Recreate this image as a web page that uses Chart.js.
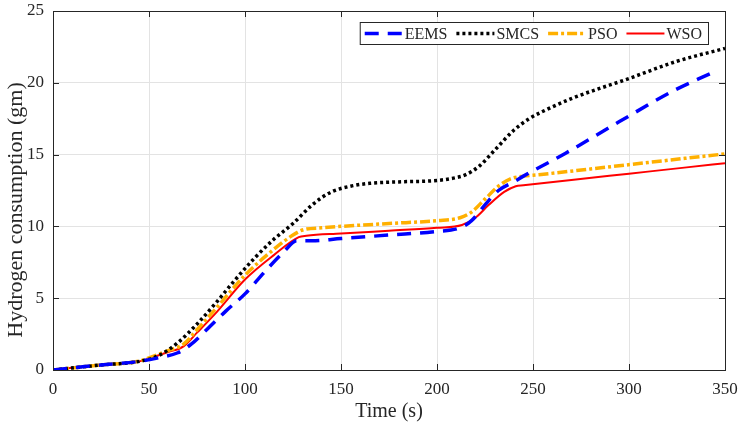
<!DOCTYPE html>
<html>
<head>
<meta charset="utf-8">
<script src="https://cdn.jsdelivr.net/npm/chart.js@4/dist/chart.umd.min.js"></script>
<style>
    html, body { margin: 0; padding: 0; background: #fff; }
    #wrap { width: 744px; height: 424px; }
</style>
</head>
<body>
<div id="wrap"><canvas id="h2Chart" width="744" height="424"></canvas></div>
<script>
// Data (time in s, hydrogen in gm)
const eemsT = [0, 25, 45, 55, 65, 72, 80, 90, 100, 110, 120, 127, 135, 150, 175, 200, 212, 218, 225, 232, 240, 245, 267, 295, 324, 340, 345];
const eemsY = [0, 0.35, 0.6, 0.85, 1.2, 1.8, 2.8, 4.1, 5.3, 6.8, 8.2, 9.0, 9.0, 9.15, 9.4, 9.65, 9.9, 10.4, 11.5, 12.5, 13.1, 13.5, 15.1, 17.3, 19.5, 20.5, 20.8];

const smcsT = [0, 25, 45, 55, 65, 75, 85, 95, 105, 115, 125, 135, 145, 155, 165, 180, 200, 210, 215, 222, 230, 240, 248, 255, 270, 300, 325, 350];
const smcsY = [0, 0.35, 0.6, 1.0, 1.9, 3.2, 4.7, 6.3, 7.8, 9.1, 10.2, 11.5, 12.4, 12.8, 13.0, 13.1, 13.2, 13.4, 13.6, 14.2, 15.3, 16.7, 17.5, 18.0, 18.9, 20.3, 21.5, 22.4];

const psoT = [0, 25, 45, 50, 60, 68, 75, 85, 100, 115, 125, 130, 140, 175, 200, 212, 218, 225, 232, 238, 245, 253, 280, 310, 350];
const psoY = [0, 0.35, 0.62, 0.85, 1.35, 1.8, 2.8, 4.3, 6.6, 8.4, 9.4, 9.75, 9.9, 10.2, 10.4, 10.6, 11.0, 11.9, 12.8, 13.3, 13.5, 13.6, 14.0, 14.45, 15.05];

const wsoT = [0, 10, 25, 45, 50, 60, 68, 75, 85, 100, 115, 128, 132, 150, 175, 200, 213, 220, 227, 235, 241, 245, 270, 300, 330, 350];
const wsoY = [0, 0.15, 0.35, 0.6, 0.8, 1.25, 1.65, 2.6, 4.0, 6.3, 8.0, 9.25, 9.35, 9.5, 9.7, 9.9, 10.1, 10.6, 11.5, 12.4, 12.8, 12.86, 13.23, 13.67, 14.11, 14.4];

const seriesNames = ['EEMS', 'SMCS', 'PSO', 'WSO'];
const xTicks = [0, 50, 100, 150, 200, 250, 300, 350];
const yTicks = [0, 5, 10, 15, 20, 25];
const xTitle = 'Time (s)';
const yTitle = 'Hydrogen consumption (gm)';

const FONT = "'Liberation Serif', 'Times New Roman', serif";
const INK = '#262626';

function toPoints(ts, ys) {
    return ts.map((t, i) => ({ x: t, y: ys[i] }));
}

const styles = [
    { color: '#0000ff', width: 3.5, dash: [14, 9] },
    { color: '#000000', width: 3.5, dash: [3, 3] },
    { color: '#ffb000', width: 3.5, dash: [10, 3, 3, 3] },
    { color: '#ff0000', width: 2, dash: [] }
];

const datasets = [
    toPoints(eemsT, eemsY),
    toPoints(smcsT, smcsY),
    toPoints(psoT, psoY),
    toPoints(wsoT, wsoY)
].map((pts, i) => ({
    label: seriesNames[i],
    data: pts,
    borderColor: styles[i].color,
    borderWidth: styles[i].width,
    borderDash: styles[i].dash,
    borderCapStyle: 'butt',
    pointRadius: 0,
    fill: false,
    cubicInterpolationMode: 'monotone'
}));

// Box around plot area, inward ticks (MATLAB look) and axis titles
const frameBox = {
    id: 'frameBox',
    afterDraw(chart) {
        const { ctx, chartArea: a, scales } = chart;
        ctx.save();
        ctx.strokeStyle = INK;
        ctx.lineWidth = 1;
        ctx.setLineDash([]);
        ctx.strokeRect(a.left + 0.5, a.top + 0.5, a.right - a.left, a.bottom - a.top);
        ctx.beginPath();
        xTicks.forEach(v => {
            const px = Math.round(scales.x.getPixelForValue(v)) + 0.5;
            ctx.moveTo(px, a.bottom); ctx.lineTo(px, a.bottom - 6);
            ctx.moveTo(px, a.top); ctx.lineTo(px, a.top + 6);
        });
        yTicks.forEach(v => {
            const py = Math.round(scales.y.getPixelForValue(v)) + 0.5;
            ctx.moveTo(a.left, py); ctx.lineTo(a.left + 6, py);
            ctx.moveTo(a.right, py); ctx.lineTo(a.right - 6, py);
        });
        ctx.stroke();

        ctx.fillStyle = INK;
        ctx.textAlign = 'center';
        ctx.textBaseline = 'middle';
        ctx.font = '20px ' + FONT;
        ctx.fillText(xTitle, (a.left + a.right) / 2, 412);
        ctx.translate(16, 210);
        ctx.rotate(-Math.PI / 2);
        ctx.font = '22px ' + FONT;
        ctx.fillText(yTitle, 0, 0);
        ctx.restore();
    }
};

// Legend box in the top-right corner
const cornerLegend = {
    id: 'cornerLegend',
    afterDraw(chart) {
        const { ctx, chartArea: a } = chart;
        const boxRight = a.right - 17;
        const boxTop = a.top + 11;
        const boxH = 22;
        const lineLen = 38;
        ctx.save();
        ctx.font = '16px ' + FONT;
        const widths = seriesNames.map(n => ctx.measureText(n).width);
        const itemW = widths.map(w => 3 + lineLen + 2 + w + 6);
        const total = itemW.reduce((s, w) => s + w, 0) + 2;
        const boxLeft = boxRight - total;
        ctx.fillStyle = '#fff';
        ctx.fillRect(boxLeft, boxTop, total, boxH);
        ctx.strokeStyle = INK;
        ctx.lineWidth = 1;
        ctx.strokeRect(boxLeft + 0.5, boxTop + 0.5, total, boxH);
        let x = boxLeft + 2;
        const cy = boxTop + boxH / 2 + 0.5;
        chart.data.datasets.forEach((ds, i) => {
            ctx.beginPath();
            ctx.strokeStyle = ds.borderColor;
            ctx.lineWidth = ds.borderWidth;
            ctx.setLineDash(ds.borderDash);
            ctx.moveTo(x + 3, cy);
            ctx.lineTo(x + 3 + lineLen, cy);
            ctx.stroke();
            ctx.setLineDash([]);
            ctx.fillStyle = INK;
            ctx.textBaseline = 'middle';
            ctx.fillText(ds.label, x + 3 + lineLen + 2, cy + 1);
            x += itemW[i];
        });
        ctx.restore();
    }
};

const ctx = document.getElementById('h2Chart').getContext('2d');
const chart = new Chart(ctx, {
    type: 'line',
    data: { datasets: datasets },
    plugins: [frameBox, cornerLegend],
    options: {
        responsive: false,
        animation: false,
        layout: { padding: { top: 11, right: 19, left: 0, bottom: 0 } },
        plugins: {
            legend: { display: false },
            tooltip: { enabled: false }
        },
        scales: {
            x: {
                type: 'linear',
                min: 0,
                max: 350,
                afterBuildTicks: (scale) => { scale.ticks = xTicks.map(v => ({ value: v })); },
                afterFit: (scale) => {
                    scale.height = 54;
                    scale.paddingLeft = 0;
                    scale.paddingRight = 0;
                },
                grid: { color: '#e3e3e3', drawTicks: false },
                border: { display: false },
                ticks: { color: INK, padding: 9, font: { family: FONT, size: 17 }, maxRotation: 0 }
            },
            y: {
                type: 'linear',
                min: 0,
                max: 25,
                afterBuildTicks: (scale) => { scale.ticks = yTicks.map(v => ({ value: v })); },
                afterFit: (scale) => {
                    scale.width = 53;
                    scale.paddingTop = 0;
                    scale.paddingBottom = 0;
                },
                grid: { color: '#e3e3e3', drawTicks: false },
                border: { display: false },
                ticks: { color: INK, padding: 9, font: { family: FONT, size: 17 } }
            }
        }
    }
});

// Nudge the padding so the plot box lands where the reference has it
const area = chart.chartArea;
const fixTop = 11 - area.top;
const fixRight = area.right - 725;
if (Math.abs(fixTop) > 0.5 || Math.abs(fixRight) > 0.5) {
    chart.options.layout.padding.top += fixTop;
    chart.options.layout.padding.right += fixRight;
    chart.update();
}
</script>
</body>
</html>
